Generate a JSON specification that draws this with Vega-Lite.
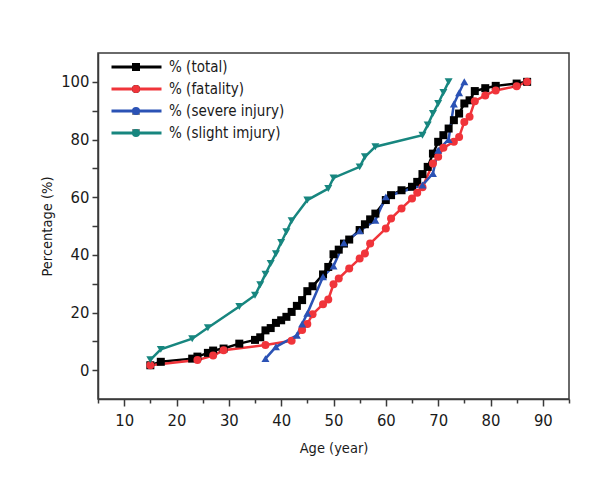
{
  "$schema": "https://vega.github.io/schema/vega-lite/v6.json",
  "width": 471,
  "height": 346,
  "autosize": "none",
  "padding": {"left": 98, "top": 53, "right": 35, "bottom": 85},
  "background": "#ffffff",
  "config": {
    "view": {"stroke": "#3a3a3a", "strokeWidth": 1.5},
    "font": "DejaVu Sans Condensed, Liberation Sans",
    "axis": {
      "grid": false,
      "domainColor": "#3a3a3a",
      "domainWidth": 1.5,
      "tickColor": "#3a3a3a",
      "tickWidth": 1.5,
      "labelFont": "DejaVu Sans Condensed, Liberation Sans",
      "labelFontSize": 16.5,
      "labelColor": "#1a1a1a",
      "titleFont": "DejaVu Sans Condensed, Liberation Sans",
      "titleFontSize": 14.5,
      "titleFontWeight": "normal",
      "titleColor": "#1a1a1a"
    }
  },
  "data": {
    "values": [
      {"series": "% (total)", "age": 15, "pct": 1.7},
      {"series": "% (total)", "age": 17, "pct": 2.9},
      {"series": "% (total)", "age": 23, "pct": 4.0},
      {"series": "% (total)", "age": 24, "pct": 4.7},
      {"series": "% (total)", "age": 26, "pct": 6.0},
      {"series": "% (total)", "age": 27, "pct": 6.8},
      {"series": "% (total)", "age": 29, "pct": 7.5},
      {"series": "% (total)", "age": 32, "pct": 9.2},
      {"series": "% (total)", "age": 35, "pct": 10.5},
      {"series": "% (total)", "age": 36, "pct": 11.4},
      {"series": "% (total)", "age": 37, "pct": 13.8},
      {"series": "% (total)", "age": 38, "pct": 14.6},
      {"series": "% (total)", "age": 39, "pct": 16.4},
      {"series": "% (total)", "age": 40, "pct": 17.3},
      {"series": "% (total)", "age": 41, "pct": 18.5},
      {"series": "% (total)", "age": 42, "pct": 20.2},
      {"series": "% (total)", "age": 43, "pct": 22.3},
      {"series": "% (total)", "age": 44, "pct": 24.3},
      {"series": "% (total)", "age": 45, "pct": 27.4},
      {"series": "% (total)", "age": 46, "pct": 29.1},
      {"series": "% (total)", "age": 48, "pct": 33.2},
      {"series": "% (total)", "age": 49, "pct": 35.8},
      {"series": "% (total)", "age": 50, "pct": 40.2},
      {"series": "% (total)", "age": 51, "pct": 41.8},
      {"series": "% (total)", "age": 52, "pct": 43.9},
      {"series": "% (total)", "age": 53, "pct": 45.3},
      {"series": "% (total)", "age": 55, "pct": 48.6},
      {"series": "% (total)", "age": 56, "pct": 50.6},
      {"series": "% (total)", "age": 57, "pct": 52.3},
      {"series": "% (total)", "age": 58, "pct": 54.3},
      {"series": "% (total)", "age": 60, "pct": 59.0},
      {"series": "% (total)", "age": 61, "pct": 60.7},
      {"series": "% (total)", "age": 63, "pct": 62.4},
      {"series": "% (total)", "age": 65, "pct": 63.6},
      {"series": "% (total)", "age": 66, "pct": 65.3},
      {"series": "% (total)", "age": 67, "pct": 68.0},
      {"series": "% (total)", "age": 68, "pct": 70.5},
      {"series": "% (total)", "age": 69, "pct": 75.1},
      {"series": "% (total)", "age": 70, "pct": 79.2},
      {"series": "% (total)", "age": 71, "pct": 81.5},
      {"series": "% (total)", "age": 72, "pct": 83.8},
      {"series": "% (total)", "age": 73, "pct": 86.7},
      {"series": "% (total)", "age": 74, "pct": 89.0},
      {"series": "% (total)", "age": 75, "pct": 92.5},
      {"series": "% (total)", "age": 76, "pct": 93.6},
      {"series": "% (total)", "age": 77, "pct": 96.8},
      {"series": "% (total)", "age": 79, "pct": 97.8},
      {"series": "% (total)", "age": 81, "pct": 98.6},
      {"series": "% (total)", "age": 85, "pct": 99.4},
      {"series": "% (total)", "age": 87, "pct": 100},
      {"series": "% (fatality)", "age": 15, "pct": 1.7},
      {"series": "% (fatality)", "age": 24, "pct": 3.5},
      {"series": "% (fatality)", "age": 27, "pct": 5.1},
      {"series": "% (fatality)", "age": 29, "pct": 6.9},
      {"series": "% (fatality)", "age": 37, "pct": 8.7},
      {"series": "% (fatality)", "age": 42, "pct": 10.2},
      {"series": "% (fatality)", "age": 44, "pct": 13.9},
      {"series": "% (fatality)", "age": 45, "pct": 16.0},
      {"series": "% (fatality)", "age": 46, "pct": 19.4},
      {"series": "% (fatality)", "age": 48, "pct": 22.9},
      {"series": "% (fatality)", "age": 49, "pct": 24.5},
      {"series": "% (fatality)", "age": 50, "pct": 29.8},
      {"series": "% (fatality)", "age": 51, "pct": 31.8},
      {"series": "% (fatality)", "age": 53, "pct": 35.3},
      {"series": "% (fatality)", "age": 55, "pct": 38.7},
      {"series": "% (fatality)", "age": 56, "pct": 40.5},
      {"series": "% (fatality)", "age": 57, "pct": 43.9},
      {"series": "% (fatality)", "age": 60, "pct": 49.1},
      {"series": "% (fatality)", "age": 61, "pct": 52.6},
      {"series": "% (fatality)", "age": 63, "pct": 56.1},
      {"series": "% (fatality)", "age": 65, "pct": 59.5},
      {"series": "% (fatality)", "age": 66, "pct": 61.5},
      {"series": "% (fatality)", "age": 67, "pct": 63.4},
      {"series": "% (fatality)", "age": 69, "pct": 71.7},
      {"series": "% (fatality)", "age": 70, "pct": 74.0},
      {"series": "% (fatality)", "age": 71, "pct": 77.1},
      {"series": "% (fatality)", "age": 73, "pct": 79.2},
      {"series": "% (fatality)", "age": 74, "pct": 80.9},
      {"series": "% (fatality)", "age": 75, "pct": 86.1},
      {"series": "% (fatality)", "age": 76, "pct": 87.9},
      {"series": "% (fatality)", "age": 77, "pct": 93.3},
      {"series": "% (fatality)", "age": 79, "pct": 95.3},
      {"series": "% (fatality)", "age": 81, "pct": 97.0},
      {"series": "% (fatality)", "age": 85, "pct": 98.5},
      {"series": "% (fatality)", "age": 87, "pct": 100},
      {"series": "% (severe injury)", "age": 37, "pct": 4.0},
      {"series": "% (severe injury)", "age": 39, "pct": 8.1},
      {"series": "% (severe injury)", "age": 43, "pct": 12.1},
      {"series": "% (severe injury)", "age": 44, "pct": 16.0},
      {"series": "% (severe injury)", "age": 45, "pct": 19.7},
      {"series": "% (severe injury)", "age": 48, "pct": 32.4},
      {"series": "% (severe injury)", "age": 50, "pct": 36.1},
      {"series": "% (severe injury)", "age": 52, "pct": 44.2},
      {"series": "% (severe injury)", "age": 55, "pct": 48.3},
      {"series": "% (severe injury)", "age": 58, "pct": 52.0},
      {"series": "% (severe injury)", "age": 60, "pct": 60.1},
      {"series": "% (severe injury)", "age": 67, "pct": 64.2},
      {"series": "% (severe injury)", "age": 69, "pct": 68.2},
      {"series": "% (severe injury)", "age": 70, "pct": 76.3},
      {"series": "% (severe injury)", "age": 72, "pct": 80.0},
      {"series": "% (severe injury)", "age": 73, "pct": 92.3},
      {"series": "% (severe injury)", "age": 74, "pct": 96.2},
      {"series": "% (severe injury)", "age": 75, "pct": 100},
      {"series": "% (slight imjury)", "age": 15, "pct": 3.6},
      {"series": "% (slight imjury)", "age": 17, "pct": 7.2},
      {"series": "% (slight imjury)", "age": 23, "pct": 10.9},
      {"series": "% (slight imjury)", "age": 26, "pct": 14.7},
      {"series": "% (slight imjury)", "age": 32, "pct": 22.1},
      {"series": "% (slight imjury)", "age": 35, "pct": 26.0},
      {"series": "% (slight imjury)", "age": 36, "pct": 29.6},
      {"series": "% (slight imjury)", "age": 37, "pct": 33.3},
      {"series": "% (slight imjury)", "age": 38, "pct": 37.0},
      {"series": "% (slight imjury)", "age": 39, "pct": 40.4},
      {"series": "% (slight imjury)", "age": 40, "pct": 44.3},
      {"series": "% (slight imjury)", "age": 41, "pct": 48.0},
      {"series": "% (slight imjury)", "age": 42, "pct": 51.8},
      {"series": "% (slight imjury)", "age": 45, "pct": 59.0},
      {"series": "% (slight imjury)", "age": 49, "pct": 63.0},
      {"series": "% (slight imjury)", "age": 50, "pct": 66.7},
      {"series": "% (slight imjury)", "age": 55, "pct": 70.5},
      {"series": "% (slight imjury)", "age": 56, "pct": 74.0},
      {"series": "% (slight imjury)", "age": 58, "pct": 77.5},
      {"series": "% (slight imjury)", "age": 67, "pct": 81.5},
      {"series": "% (slight imjury)", "age": 68, "pct": 85.0},
      {"series": "% (slight imjury)", "age": 69, "pct": 89.0},
      {"series": "% (slight imjury)", "age": 70, "pct": 92.5},
      {"series": "% (slight imjury)", "age": 71, "pct": 96.3},
      {"series": "% (slight imjury)", "age": 72, "pct": 100}
    ]
  },
  "encoding": {
    "x": {
      "field": "age",
      "type": "quantitative",
      "scale": {"domain": [5, 95], "nice": false, "zero": false},
      "axis": {
        "title": "Age (year)",
        "values": [5, 10, 15, 20, 25, 30, 35, 40, 45, 50, 55, 60, 65, 70, 75, 80, 85, 90, 95],
        "labelExpr": "datum.value % 10 === 0 ? datum.label : ''",
        "tickSize": {"condition": {"test": "datum.value % 10 === 0", "value": 7}, "value": 4},
        "labelPadding": 6,
        "titlePadding": 13
      }
    },
    "y": {
      "field": "pct",
      "type": "quantitative",
      "scale": {"domain": [-10, 110], "nice": false, "zero": false},
      "axis": {
        "title": "Percentage (%)",
        "values": [0, 10, 20, 30, 40, 50, 60, 70, 80, 90, 100],
        "labelExpr": "datum.value % 20 === 0 ? datum.label : ''",
        "tickSize": 6,
        "labelPadding": 3,
        "titlePadding": 6
      }
    }
  },
  "layer": [
    {
      "mark": {"type": "line", "strokeWidth": 2.5},
      "encoding": {
        "stroke": {
          "field": "series",
          "type": "nominal",
          "scale": {
            "domain": ["% (total)", "% (fatality)", "% (severe injury)", "% (slight imjury)"],
            "range": ["#000000", "#f0343a", "#2b52b5", "#17867f"]
          },
          "legend": {
            "title": null,
            "orient": "none",
            "legendX": 12,
            "legendY": 4,
            "padding": 0,
            "symbolType": "stroke",
            "symbolSize": 2500,
            "symbolStrokeWidth": 3,
            "clipHeight": 20,
            "rowPadding": 2,
            "labelFont": "DejaVu Sans Condensed, Liberation Sans",
            "labelFontSize": 15,
            "labelColor": "#1a1a1a",
            "labelOffset": 6
          }
        }
      }
    },
    {
      "mark": {"type": "point", "filled": true, "size": 64, "opacity": 1},
      "encoding": {
        "fill": {
          "field": "series",
          "type": "nominal",
          "sort": ["% (total)", "% (fatality)", "% (severe injury)", "% (slight imjury)"],
          "scale": {"range": ["#000000", "#f0343a", "#2b52b5", "#17867f"]},
          "legend": {
            "title": null,
            "orient": "none",
            "legendX": 33,
            "legendY": 4,
            "padding": 0,
            "symbolSize": 64,
            "symbolStrokeWidth": 0,
            "clipHeight": 20,
            "rowPadding": 2,
            "labelExpr": "''"
          }
        },
        "shape": {
          "field": "series",
          "type": "nominal",
          "sort": ["% (total)", "% (fatality)", "% (severe injury)", "% (slight imjury)"],
          "scale": {"range": ["square", "circle", "triangle-up", "triangle-down"]},
          "legend": {
            "title": null,
            "orient": "none",
            "legendX": 33,
            "legendY": 4,
            "padding": 0,
            "symbolSize": 64,
            "symbolStrokeWidth": 0,
            "clipHeight": 20,
            "rowPadding": 2,
            "labelExpr": "''"
          }
        }
      }
    }
  ]
}
